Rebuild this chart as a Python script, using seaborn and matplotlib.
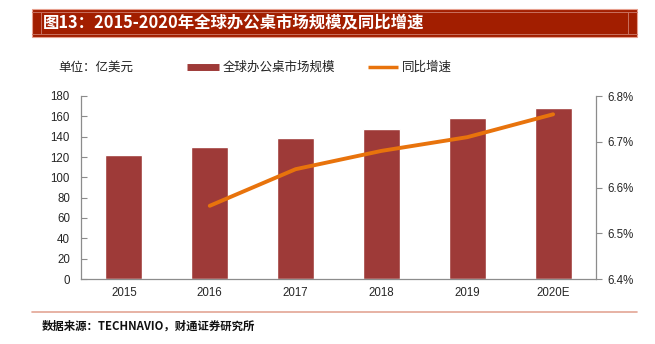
import matplotlib
matplotlib.use("Agg")
import matplotlib.pyplot as plt
import seaborn as sns
import pandas as pd
from matplotlib.patches import Rectangle
from matplotlib.lines import Line2D

years = ["2015", "2016", "2017", "2018", "2019", "2020E"]
market_size = [122, 130, 139, 148, 158, 168]
growth_years = ["2016", "2017", "2018", "2019", "2020E"]
growth_rate = [6.56, 6.64, 6.68, 6.71, 6.76]
left_ticks = [0, 20, 40, 60, 80, 100, 120, 140, 160, 180]
right_ticks = [6.4, 6.5, 6.6, 6.7, 6.8]

title = "图13：2015-2020年全球办公桌市场规模及同比增速"
unit_label = "单位：亿美元"
bar_label = "全球办公桌市场规模"
line_label = "同比增速"
source = "数据来源：TECHNAVIO，财通证券研究所"

sns.set_theme(style="white")
plt.rcParams['font.family'] = ['Liberation Sans', 'Noto Sans CJK SC', 'DejaVu Sans']
cjk = ['Noto Sans CJK SC', 'DejaVu Sans']

bar_color = "#9E3A38"
line_color = "#E8730C"
spine_color = "#8C8C8C"

fig = plt.figure(figsize=(6.55, 3.44), dpi=100)
W, H = 655, 344
ax = fig.add_axes([81 / W, 1 - 279 / H, (596 - 81) / W, (279 - 96) / H])

df_bar = pd.DataFrame({"year": years, "size": market_size})
sns.barplot(data=df_bar, x="year", y="size", order=years, color=bar_color,
            width=0.43, saturation=1, ax=ax)
ax.set_xlim(-0.5, 5.5)
ax.set_ylim(0, 180)
ax.set_yticks(left_ticks)
ax.set_yticklabels([str(t) for t in left_ticks], fontsize=8.3)
ax.set_xlabel("")
ax.set_ylabel("")
ax.set_xticks(range(len(years)))
ax.set_xticklabels(years, fontsize=8.3)
ax.tick_params(axis="x", length=0, pad=6)
ax.tick_params(axis="y", direction="in", length=4, width=0.8, color=spine_color, pad=8)
# category separator ticks
ax.set_xticks([i + 0.5 for i in range(len(years) - 1)], minor=True)
ax.tick_params(axis="x", which="minor", direction="in", length=4, width=0.8, color=spine_color)

ax2 = ax.twinx()
df_line = pd.DataFrame({"pos": [years.index(y) for y in growth_years], "rate": growth_rate})
sns.lineplot(data=df_line, x="pos", y="rate", color=line_color, linewidth=2.8, ax=ax2,
             solid_capstyle="round")
ax2.set_xlim(-0.5, 5.5)
ax2.set_ylim(6.4, 6.8)
ax2.set_yticks(right_ticks)
ax2.set_yticklabels([f"{t:.1f}%" for t in right_ticks], fontsize=8.3)
ax2.set_ylabel("")
ax2.set_xlabel("")
ax2.tick_params(axis="y", direction="out", length=4, width=0.8, color=spine_color, pad=4)

for a in (ax, ax2):
    a.spines["top"].set_visible(False)
    for s in ["left", "right", "bottom"]:
        a.spines[s].set_color(spine_color)
        a.spines[s].set_linewidth(0.9)
ax.spines["right"].set_visible(False)
ax2.spines["left"].set_visible(False)
ax2.spines["bottom"].set_visible(False)

# Title band
band_color = "#A21E00"
fig.patches.append(Rectangle((32 / W, 1 - 37 / H), (637 - 32) / W, 28 / H,
                             transform=fig.transFigure, facecolor=band_color,
                             edgecolor="#E7A08F", linewidth=0.8, zorder=0))
for yy in (12, 34):
    fig.add_artist(Line2D([32 / W, 637 / W], [1 - yy / H, 1 - yy / H],
                          transform=fig.transFigure, color="#C9705E", linewidth=0.7))
for xx in (41, 628):
    fig.add_artist(Line2D([xx / W, xx / W], [1 - 12 / H, 1 - 34 / H],
                          transform=fig.transFigure, color="#C9705E", linewidth=0.7))
fig.text(43 / W, 1 - 23.5 / H, title, color="white", fontsize=11.8, fontweight="bold",
         va="center", ha="left", family=cjk)

# Legend
fig.text(58 / W, 1 - 67 / H, unit_label, fontsize=9, va="center", ha="left", family=cjk,
         color="#222222")
fig.add_artist(Line2D([187 / W, 219 / W], [1 - 66.5 / H, 1 - 66.5 / H],
                      transform=fig.transFigure, color=bar_color, linewidth=5,
                      solid_capstyle="butt"))
fig.text(223 / W, 1 - 67 / H, bar_label, fontsize=9, va="center", ha="left", family=cjk,
         color="#222222")
fig.add_artist(Line2D([368 / W, 398 / W], [1 - 66.5 / H, 1 - 66.5 / H],
                      transform=fig.transFigure, color=line_color, linewidth=2.5,
                      solid_capstyle="butt"))
fig.text(402 / W, 1 - 67 / H, line_label, fontsize=9, va="center", ha="left", family=cjk,
         color="#222222")

# Bottom rule and source
fig.add_artist(Line2D([32 / W, 637 / W], [1 - 312 / H, 1 - 312 / H],
                      transform=fig.transFigure, color="#E3A595", linewidth=1.2))
fig.text(42 / W, 1 - 326 / H, source, fontsize=8.2, fontweight="bold", va="center",
         ha="left", family=cjk, color="#111111")

fig.savefig("out.png", dpi=100)
